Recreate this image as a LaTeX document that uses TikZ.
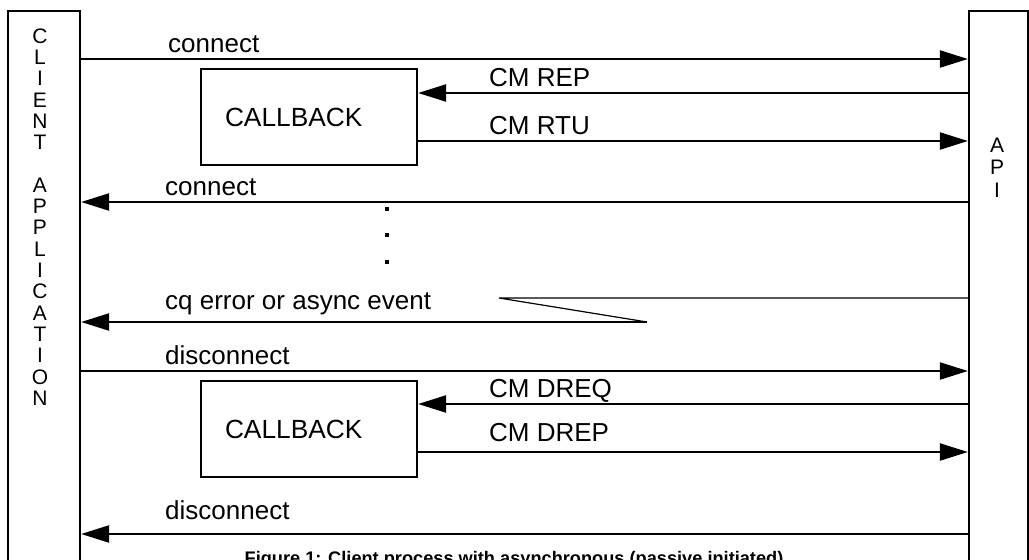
\documentclass[tikz,border=0pt]{standalone}
\usepackage{fontspec}
\setmainfont{Liberation Sans}
\usetikzlibrary{arrows.meta}
\begin{document}
\begin{tikzpicture}[x=1pt,y=-1pt,
 box/.style={draw, line width=2.2pt, rectangle, inner sep=0pt},
 arr/.style={line width=2.2pt, -{Triangle[length=28pt,width=17pt]}},
 thinline/.style={line width=1.2pt},
 lbl/.style={anchor=base west, inner sep=0pt, font=\fontsize{26}{31}\selectfont},
 vlet/.style={inner sep=0pt, font=\fontsize{21}{25}\selectfont},
 dotsq/.style={fill, rectangle, minimum size=4pt, inner sep=0pt},
 cbbox/.style={box, minimum width=216pt, minimum height=96pt, text width=168pt, align=left, inner xsep=24pt, font=\fontsize{26.3}{31}\selectfont}
]
\useasboundingbox (0,0) rectangle (1029,560);
\clip (0,0) rectangle (1029,560);
% lifelines
\node[box, minimum width=72pt, minimum height=589pt] (client) at (44,305.5) {};
\node[box, minimum width=59pt, minimum height=589pt] (api) at (998.5,305.5) {};
\foreach \ch [count=\i from 0] in {C,L,I,E,N,T}
  \node[vlet] (cl\i) at (40,36+21.3*\i) {\ch};
\foreach \ch [count=\i from 7] in {A,P,P,L,I,C,A,T,I,O,N}
  \node[vlet] (ap\i) at (40,36+21.3*\i) {\ch};
\node[vlet] (apiA) at (997,145) {A};
\node[vlet] (apiP) at (997,167.5) {P};
\node[vlet] (apiI) at (997,190) {I};
% callbacks
\node[cbbox] (cb1) at (309,117) {CALLBACK};
\node[cbbox] (cb2) at (309,429) {CALLBACK};
% y levels
\coordinate (y1) at (0,59);
\coordinate (y2) at (0,93);
\coordinate (y3) at (0,141);
\coordinate (y4) at (0,202);
\coordinate (y5) at (0,298);
\coordinate (y6) at (0,322);
\coordinate (y7) at (0,371);
\coordinate (y8) at (0,404);
\coordinate (y9) at (0,452);
\coordinate (y10) at (0,534);
\coordinate (k1) at (499,298);
\coordinate (k2) at (647,322);
% messages
\draw[arr] (client.east |- y1) -- (api.west |- y1);
\node[lbl] (lconnect1) at (168,52) {connect};
\draw[arr] (api.west |- y2) -- (cb1.east |- y2);
\node[lbl] (lcmrep) at (489,86) {CM REP};
\draw[arr] (cb1.east |- y3) -- (api.west |- y3);
\node[lbl] (lcmrtu) at (489,134) {CM RTU};
\draw[arr] (api.west |- y4) -- (client.east |- y4);
\node[lbl] (lconnect2) at (165,195) {connect};
\node[dotsq] (d1) at (387,209) {};
\node[dotsq] (d2) at (387,235) {};
\node[dotsq] (d3) at (387,262) {};
\draw[thinline] (api.west |- y5) -- (k1) -- (k2);
\draw[arr] (k2) -- (client.east |- y6);
\node[lbl] (lcq) at (165,309) {cq error or async event};
\draw[arr] (client.east |- y7) -- (api.west |- y7);
\node[lbl] (ldisc1) at (165,364) {disconnect};
\draw[arr] (api.west |- y8) -- (cb2.east |- y8);
\node[lbl] (ldreq) at (489,397) {CM DREQ};
\draw[arr] (cb2.east |- y9) -- (api.west |- y9);
\node[lbl] (ldrep) at (489,441) {CM DREP};
\draw[arr] (api.west |- y10) -- (client.east |- y10);
\node[lbl] (ldisc2) at (165,519) {disconnect};
% caption
\node[anchor=base, inner sep=0pt, font=\bfseries\fontsize{18.2}{22}\selectfont] (cap) at (514,564.5) {Figure 1: Client process with asynchronous (passive initiated)};
\end{tikzpicture}
\end{document}
